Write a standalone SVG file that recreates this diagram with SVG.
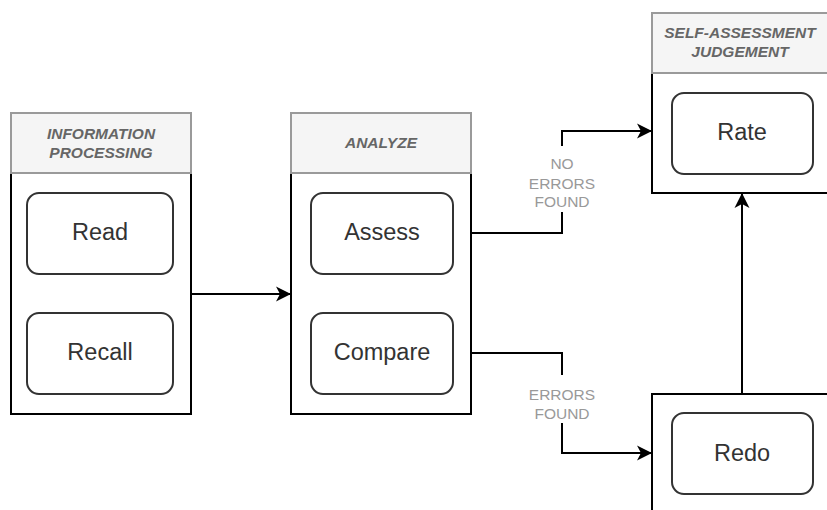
<svg xmlns="http://www.w3.org/2000/svg" width="827" height="510" viewBox="0 0 827 510">
  <style>
    .hdr { fill: #f5f5f5; stroke: #9a9a9a; stroke-width: 2; }
    .body { fill: #ffffff; stroke: #000000; stroke-width: 2; }
    .task { fill: #ffffff; stroke: #333333; stroke-width: 2; }
    .htxt { font-family: "Liberation Sans", Arial, sans-serif; font-size: 15.5px; font-style: italic; font-weight: bold; fill: #666666; text-anchor: middle; }
    .ltxt { font-family: "Liberation Sans", Arial, sans-serif; font-size: 23.5px; fill: #333333; text-anchor: middle; }
    .etxt { font-family: "Liberation Sans", Arial, sans-serif; font-size: 15.5px; fill: #999999; text-anchor: middle; }
    .edge { fill: none; stroke: #000000; stroke-width: 2; }
  </style>
  <defs>
    <marker id="arrow" markerUnits="userSpaceOnUse" markerWidth="18" markerHeight="18" viewBox="0 0 18 18" refX="17" refY="9" orient="auto">
      <path d="M2,1.5 L17,9 L2,16.5 L6,9 Z" fill="#000000"/>
    </marker>
  </defs>
  <rect width="827" height="510" fill="#ffffff"/>

  <!-- Information processing lane -->
  <g id="information-processing">
    <rect class="body" x="11" y="113" width="180" height="301"/>
    <rect class="hdr" x="11" y="113" width="180" height="60"/>
    <text class="htxt" x="101" y="138.5">INFORMATION</text>
    <text class="htxt" x="101" y="157.5">PROCESSING</text>
  </g>
  <g id="read">
    <rect class="task" x="27" y="193" width="146" height="81" rx="12"/>
    <text class="ltxt" x="100" y="240">Read</text>
  </g>
  <g id="recall">
    <rect class="task" x="27" y="313" width="146" height="81" rx="12"/>
    <text class="ltxt" x="100" y="360">Recall</text>
  </g>

  <!-- Analyze lane -->
  <g id="analyze">
    <rect class="body" x="291" y="113" width="180" height="301"/>
    <rect class="hdr" x="291" y="113" width="180" height="60"/>
    <text class="htxt" x="381" y="148">ANALYZE</text>
  </g>
  <g id="assess">
    <rect class="task" x="311" y="193" width="142" height="81" rx="12"/>
    <text class="ltxt" x="382" y="240">Assess</text>
  </g>
  <g id="compare">
    <rect class="task" x="311" y="313" width="142" height="81" rx="12"/>
    <text class="ltxt" x="382" y="360">Compare</text>
  </g>

  <!-- Self-assessment judgement lane -->
  <g id="self-assessment-judgement">
    <rect class="body" x="652" y="13" width="180" height="180"/>
    <rect class="hdr" x="652" y="13" width="180" height="60"/>
    <text class="htxt" x="740" y="37.5">SELF-ASSESSMENT</text>
    <text class="htxt" x="740" y="57">JUDGEMENT</text>
  </g>
  <g id="rate">
    <rect class="task" x="672" y="93" width="141" height="81" rx="12"/>
    <text class="ltxt" x="742" y="140">Rate</text>
  </g>

  <!-- Redo lane -->
  <g id="redo-lane">
    <rect class="body" x="652" y="394" width="180" height="140"/>
  </g>
  <g id="redo">
    <rect class="task" x="672" y="413" width="141" height="81" rx="12"/>
    <text class="ltxt" x="742" y="460.5">Redo</text>
  </g>

  <!-- Connectors -->
  <g id="connectors">
    <path class="edge" d="M191,294 H291" marker-end="url(#arrow)"/>
    <path class="edge" d="M471,233 H562 V131 H652" marker-end="url(#arrow)"/>
    <path class="edge" d="M471,353 H562 V453 H652" marker-end="url(#arrow)"/>
    <path class="edge" d="M742,394 V193" marker-end="url(#arrow)"/>
    <g id="label-no-errors">
      <rect x="526" y="146" width="72" height="66" fill="#ffffff"/>
      <text class="etxt" x="562" y="168.5">NO</text>
      <text class="etxt" x="562" y="188.5">ERRORS</text>
      <text class="etxt" x="562" y="207">FOUND</text>
    </g>
    <g id="label-errors">
      <rect x="526" y="375" width="72" height="48" fill="#ffffff"/>
      <text class="etxt" x="562" y="399.5">ERRORS</text>
      <text class="etxt" x="562" y="419">FOUND</text>
    </g>
  </g>
</svg>
